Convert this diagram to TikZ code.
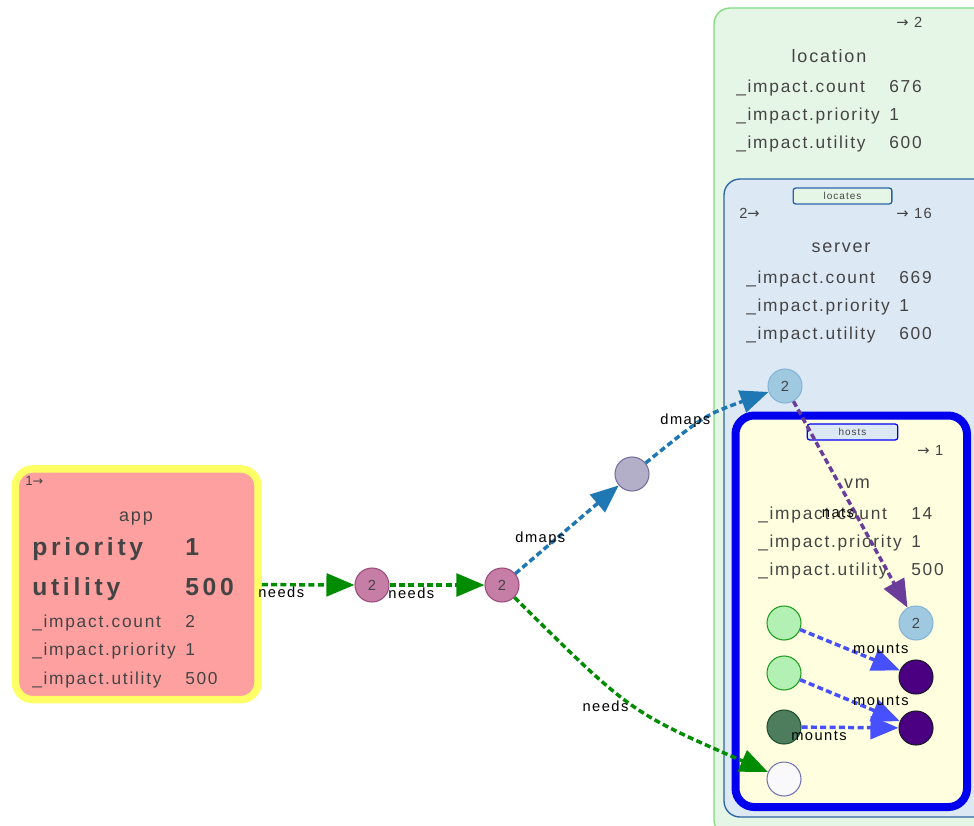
\documentclass[tikz,border=0pt]{standalone}
\usepackage{fontspec}
\setmainfont{Liberation Sans}
\newfontfamily\spfont[LetterSpace=10]{Liberation Sans}
\newfontfamily\bigfont[LetterSpace=15]{Liberation Sans}
\newfontfamily\arrfont{DejaVu Sans}
\usetikzlibrary{arrows.meta}
\definecolor{locfill}{HTML}{E6F6E6}
\definecolor{locdraw}{HTML}{7FDC7F}
\definecolor{srvfill}{HTML}{DDE8F5}
\definecolor{srvdraw}{HTML}{2B64A5}
\definecolor{vmfill}{HTML}{FFFFE0}
\definecolor{vmdraw}{HTML}{0000EE}
\definecolor{appfill}{HTML}{FFA0A0}
\definecolor{appdraw}{HTML}{FFFF66}
\definecolor{textgray}{HTML}{444444}
\definecolor{pinkfill}{HTML}{C67DA6}
\definecolor{pinkdraw}{HTML}{9C4C7C}
\definecolor{grayfill}{HTML}{B3AFC8}
\definecolor{graydraw}{HTML}{7A6E9A}
\definecolor{lbfill}{HTML}{9EC9E1}
\definecolor{lbdraw}{HTML}{85B5D5}
\definecolor{lgfill}{HTML}{B3F0B3}
\definecolor{lgdraw}{HTML}{1E9E1E}
\definecolor{dgfill}{HTML}{4E7D5E}
\definecolor{dgdraw}{HTML}{1F4F2F}
\definecolor{wfill}{HTML}{F9F9FB}
\definecolor{wdraw}{HTML}{7474B4}
\definecolor{indfill}{HTML}{4B0082}
\definecolor{inddraw}{HTML}{1A1A2A}
\definecolor{needsc}{HTML}{008C00}
\definecolor{dmapsc}{HTML}{1F77B4}
\definecolor{natsc}{HTML}{6A3D9A}
\definecolor{mountsc}{HTML}{4650FF}
\newcommand{\rarr}{{\arrfont\fontsize{11}{12}\selectfont→}}
\tikzset{
  row/.style={font=\fontsize{13}{15}\spfont, text=textgray, inner sep=0, anchor=base west},
  ttl/.style={font=\fontsize{13.5}{15}\spfont, text=textgray, inner sep=0, anchor=base},
  big/.style={font=\fontsize{18.5}{20}\bigfont\bfseries, text=textgray, inner sep=0, anchor=base west},
  cnt/.style={font=\fontsize{11}{12}\spfont, text=textgray, inner sep=0, anchor=base west},
  tab/.style={draw, rounded corners=2pt, line width=1pt, minimum width=74pt, minimum height=12pt, inner sep=0, font=\fontsize{7.5}{8}\spfont, text=textgray},
  dot/.style={circle, minimum size=25.5pt, inner sep=0, line width=0.8pt, font=\fontsize{11}{12}\spfont, text=textgray},
  edgebase/.style={line width=2.6pt, dash pattern=on 4.5pt off 2.5pt, -{Triangle[length=21pt,width=17pt]}},
  needsedge/.style={edgebase, draw=needsc},
  dmapsedge/.style={edgebase, draw=dmapsc},
  natsedge/.style={edgebase, draw=natsc},
  mountsedge/.style={edgebase, draw=mountsc},
  elab/.style={font=\fontsize{11}{12}\spfont, text=black, inner sep=0, anchor=center},
}
\begin{document}
\begin{tikzpicture}[x=0.75pt,y=-0.75pt]
\useasboundingbox (0,0) rectangle (974,825);
\fill[white] (0,0) rectangle (974,825);
\clip (0,0) rectangle (974,825);

% location container
\draw[fill=locfill, draw=locdraw, line width=1pt, rounded corners=12pt] (714,8) rectangle (1000,836);
\node[cnt] (locout) at (896,27) {\rarr\ 2};
\node[ttl] (loctitle) at (829,62) {location};
\node[row] (locr1) at (736,92) {\_impact.count};
\node[row] (locv1) at (889,92) {676};
\node[row] (locr2) at (736,120) {\_impact.priority};
\node[row] (locv2) at (889,120) {1};
\node[row] (locr3) at (736,148) {\_impact.utility};
\node[row] (locv3) at (889,148) {600};

% server container
\draw[fill=srvfill, draw=srvdraw, line width=1pt, rounded corners=12pt] (724,179) rectangle (1000,817);
\node[tab, fill=locfill, draw=srvdraw] (loctab) at (842.5,196) {locates};
\node[cnt] (srvin) at (739,218) {2\rarr};
\node[cnt] (srvout) at (896,218) {\rarr\ 16};
\node[ttl] (srvtitle) at (841,252) {server};
\node[row] (srvr1) at (746,283) {\_impact.count};
\node[row] (srvv1) at (899,283) {669};
\node[row] (srvr2) at (746,311) {\_impact.priority};
\node[row] (srvv2) at (899,311) {1};
\node[row] (srvr3) at (746,339) {\_impact.utility};
\node[row] (srvv3) at (899,339) {600};

% vm container
\draw[fill=vmfill, draw=vmdraw, line width=6pt, rounded corners=14pt] (735.5,415.5) rectangle (967,807);
\node[tab, fill=srvfill, draw=vmdraw, line width=0.9pt, minimum width=68pt] (hosttab) at (852.5,432) {hosts};
\node[cnt] (vmout) at (917,455) {\rarr\ 1};
\node[ttl] (vmtitle) at (857,488) {vm};
\node[row] (vmr1) at (758,519) {\_impact.count};
\node[row] (vmv1) at (911,519) {14};
\node[row] (vmr2) at (758,547) {\_impact.priority};
\node[row] (vmv2) at (911,547) {1};
\node[row] (vmr3) at (758,575) {\_impact.utility};
\node[row] (vmv3) at (911,575) {500};

% app node
\node[draw=appdraw, fill=appfill, line width=5.6pt, rounded corners=13pt, minimum width=182pt, minimum height=173pt, inner sep=0] (appbox) at (136.75,584.25) {};
\node[cnt, font=\fontsize{10}{11}\spfont] (appin) at (25,485) {1{\arrfont\fontsize{9.5}{10}\selectfont→}};
\node[ttl] (apptitle) at (136,521) {app};
\node[big] (appb1) at (32,555) {priority};
\node[big] (appbv1) at (185,555) {1};
\node[big] (appb2) at (32,595) {utility};
\node[big] (appbv2) at (185,595) {500};
\node[row] (appr1) at (32,627) {\_impact.count};
\node[row] (appv1) at (185,627) {2};
\node[row] (appr2) at (32,655) {\_impact.priority};
\node[row] (appv2) at (185,655) {1};
\node[row] (appr3) at (32,684) {\_impact.utility};
\node[row] (appv3) at (185,684) {500};

% circles
\node[dot, fill=pinkfill, draw=pinkdraw] (n1) at (372,585) {2};
\node[dot, fill=pinkfill, draw=pinkdraw] (n2) at (502,585) {2};
\node[dot, fill=grayfill, draw=graydraw] (g) at (632,474) {};
\node[dot, fill=lbfill, draw=lbdraw] (s2) at (785,386) {2};
\node[dot, fill=lbfill, draw=lbdraw] (v2) at (916,623) {2};
\node[dot, fill=lgfill, draw=lgdraw] (lg1) at (784,623) {};
\node[dot, fill=lgfill, draw=lgdraw] (lg2) at (784,673) {};
\node[dot, fill=dgfill, draw=dgdraw] (dg) at (784,727) {};
\node[dot, fill=wfill, draw=wdraw] (w) at (784,779) {};
\node[dot, fill=indfill, draw=inddraw] (p1) at (916,677) {};
\node[dot, fill=indfill, draw=inddraw] (p2) at (916,728) {};

% edges
\draw[needsedge] (appbox) -- (n1) node[elab, pos=0.21, yshift=-6pt] (l1) {needs};
\draw[needsedge] (n1) -- (n2) node[elab, pos=0.23, yshift=-6pt] (l2) {needs};
\draw[dmapsedge] (n2) -- (g) node[elab, pos=0.3, xshift=-4.5pt, yshift=6pt] (l3) {dmaps};
\draw[dmapsedge] (g) .. controls (705,415) .. (s2) node[elab, pos=0.3, xshift=-0.75pt, yshift=7.75pt] (l4) {dmaps};
\draw[needsedge] (n2) .. controls (630,712) .. (w) node[elab, pos=0.5, xshift=-20.5pt, yshift=-0.5pt] (l5) {needs};
\draw[mountsedge] (lg1) -- (p1) node[elab, pos=0.81, yshift=10.5pt] (l7) {mounts};
\draw[mountsedge] (lg2) -- (p2) node[elab, pos=0.81, yshift=9.4pt] (l8) {mounts};
\draw[mountsedge] (dg) -- (p2) node[elab, pos=0.18, yshift=-6.6pt] (l9) {mounts};
\draw[natsedge] (s2) -- (v2) node[elab, pos=0.5, xshift=-9.4pt, yshift=-6.4pt] (l6) {nats};
\end{tikzpicture}
\end{document}
